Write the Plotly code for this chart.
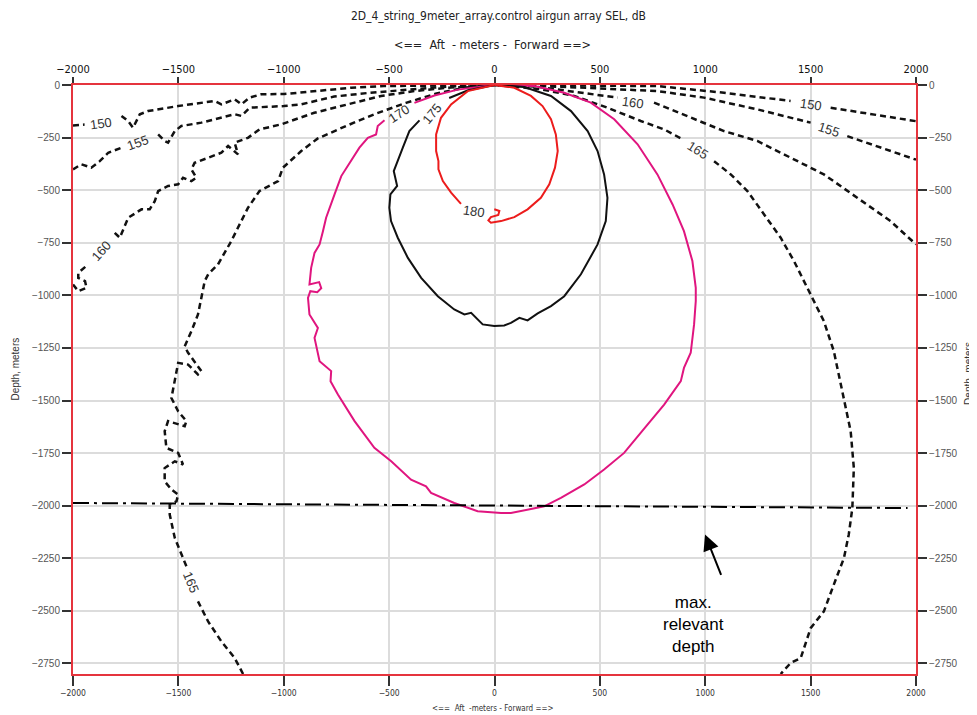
import plotly.graph_objects as go

# ---------------- data (meters) ----------------
x_ticks = [-2000, -1500, -1000, -500, 0, 500, 1000, 1500, 2000]
y_ticks = [0, -250, -500, -750, -1000, -1250, -1500, -1750, -2000, -2250, -2500, -2750]

c180_x = [0, -127, -206, -254, -277, -277, -266, -266, -245, -206, -159, None,
          -1, 23, 18, -17, -29, -17, 31, 94, 157, 220, 260, 287, 300, 291, 268, 228, 173, 94, 0]
c180_y = [0, -29, -92, -156, -235, -314, -362, -401, -457, -512, -565, None,
          -591, -599, -618, -628, -644, -655, -647, -628, -591, -536, -472, -393, -314, -235, -163, -100, -52, -13, 0]

c175_x = [0, -125, -215, None, -356, -404, -435, -459, -478, -462, -494, -499, -491, -459,
          -411, -348, -269, -191, -143, -111, -80, -56, -1, 46, 78, 118, 157, 205, 268, 331,
          410, 489, 528, 536, 520, 489, 442, 363, 268, 141, 31, 0]
c175_y = [0, -25, -62, None, -168, -219, -298, -362, -409, -480, -520, -584, -647, -726,
          -822, -917, -1004, -1067, -1091, -1083, -1115, -1138, -1146, -1143, -1131, -1107, -1119, -1086, -1051, -1004,
          -900, -758, -647, -536, -425, -314, -219, -124, -52, -10, 0, 0]

c170_x = [0, -174, -285, -380, None, -522, -554, -562, -601, -641, -680, -727, -759, -783, -799,
          -814, -830, -854, -870, -878, -832, -822, -841, -874, -885, -878, -838, -854, -830, -775,
          -778, -743, -664, -570, -490, -396, -325, -301, -191, -80, 31, 78, 236, 315, 426,
          520, 615, 726, 805, 884, 899, 931, 947, 955, 955, 939, 899, 845, 773, 679,
          568, 457, 331, 189, 0]
c170_y = [0, -22, -50, -85, None, -168, -195, -235, -251, -298, -362, -433, -520, -584, -631,
          -695, -758, -798, -869, -948, -937, -966, -985, -980, -1012, -1091, -1155, -1202, -1313, -1360,
          -1408, -1471, -1598, -1725, -1789, -1876, -1908, -1939, -1987, -2026, -2035, -2035, -2003, -1963, -1899,
          -1828, -1749, -1614, -1519, -1408, -1345, -1273, -1138, -1027, -964, -837, -695, -568, -425, -282,
          -163, -84, -37, -5, 0]

c165_x = [-1193, -1233, -1296, -1359, -1407, None, -1462, -1486, -1517, -1541, -1541,
          -1509, -1501, -1533, -1565, -1565, -1517, -1478, -1501, -1557, -1565,
          -1549, -1470, -1462, -1501, -1533, -1517, -1501, -1454, -1407, -1391,
          -1454, -1470, -1438, -1407, -1375, -1358, -1312, -1249, -1217, -1170,
          -1115, -1027, -1004, -917, -840, -705, -560, -420, -280, -140,
          0, 220, 378, 536, 694, 805, 892, None, 1042, 1121, 1200, 1279, 1358,
          1421, 1492, 1563, 1610, 1658, 1690, 1705, 1698, 1681, 1658,
          1610, 1563, 1500, 1453, 1405, 1358]
c165_y = [-2800, -2724, -2645, -2550, -2455, None, -2288, -2232, -2153, -2042, -1995,
          -1979, -1947, -1923, -1884, -1821, -1789, -1804, -1749, -1725, -1646,
          -1598, -1622, -1598, -1551, -1488, -1408, -1321, -1329, -1376, -1360,
          -1273, -1242, -1170, -1091, -932, -899, -853, -742, -679, -584,
          -504, -457, -393, -314, -255, -195, -135, -85, -42, -12,
          0, -20, -52, -108, -171, -211, -258, None, -362, -425, -504, -615, -726,
          -837, -980, -1123, -1265, -1488, -1646, -1820, -2011, -2137, -2249,
          -2375, -2502, -2582, -2724, -2748, -2800]

c160_x = [-2000, -1975, -1936, -1943, -1975, -1975, -1928, None, -1802, -1778, -1738, -1675, -1636,
          -1612, -1596, -1549, -1501, -1478, -1438, -1415, -1438, -1423, -1359,
          -1296, -1264, -1217, -1233, -1170, -1115, -1012, -855, -696, -538,
          -381, -220, 0, 200, 584, None, 757, 931, 1089, 1247, 1405, 1563, 1721, 1879, 2000]
c160_y = [-948, -980, -964, -932, -917, -893, -853, None, -703, -726, -631, -591, -591,
          -552, -504, -480, -472, -441, -457, -441, -401, -370, -346,
          -322, -290, -330, -274, -251, -211, -187, -132, -92, -52,
          -29, -13, 0, -8, -60, None, -84, -156, -219, -266, -346, -425, -536, -647, -758]

c155_x = [-2000, -1961, -1913, -1873, -1833, -1770, None, -1596, -1565, -1549, -1517, -1486, -1391,
          -1233, -1201, -1162, -1000, -917, -761, -601, -443, -287, -140, 0, 150, 400, 773, 994,
          1247, 1500, None, 1674, 1989, 2000]
c155_y = [-401, -377, -393, -362, -322, -298, None, -235, -266, -274, -219, -195, -179,
          -139, -147, -108, -100, -92, -55, -38, -24, -12, -4, 0, -3, -12, -29, -60,
          -116, -179, None, -243, -353, -355]

c150_x = [-2000, -1945, None, -1770, -1739, -1715, -1683, -1644, -1501, -1328, -1296, -1233, -1201,
          -1162, -1107, -998, -836, -680, -524, -300, 0, 300, 773, 1089, 1405, None, 1595, 1989, 2000]
c150_y = [-192, -188, None, -147, -171, -203, -139, -124, -100, -76, -92, -68, -92,
          -60, -44, -43, -29, -13, -5, -2, 0, -2, -5, -37, -76, None, -108, -171, -172]

label_text = ["150", "155", "160", "165", "170", "175", "180", "160", "165", "150", "155"]
label_x = [-1865, -1690, -1865, -1440, -452, -296, -95, 656, 967, 1500, 1585]
label_y = [-181, -275, -785, -2365, -135, -135, -600, -81, -310, -95, -213]
label_angle = [-8, -20, -48, 68, -33, -50, 8, 8, 32, 8, 18]

max_depth_x = [-2000, 1960]
max_depth_y = [-1987, -2011]
arrow_tip = (999, -2137)
arrow_tail = (1078, -2336)
note_pos = (942, -2564)

# ---------------- style ----------------
RED_FRAME = "#e5343d"
GRID = "#dcdcdc"
NARROW = "Liberation Sans Narrow, Arial Narrow, DejaVu Sans Condensed, sans-serif"
REG = "Liberation Sans, Arial, sans-serif"

fig = go.Figure()


def add_line(xs, ys, color, width, dash="solid"):
    fig.add_trace(go.Scatter(x=xs, y=ys, mode="lines", connectgaps=False,
                             line=dict(color=color, width=width, dash=dash),
                             hoverinfo="skip", showlegend=False))


DASH = "6px,4px"
add_line(c150_x, c150_y, "#111111", 2.5, DASH)
add_line(c155_x, c155_y, "#111111", 2.5, DASH)
add_line(c160_x, c160_y, "#111111", 2.5, DASH)
add_line(c165_x, c165_y, "#111111", 2.5, DASH)
add_line(c170_x, c170_y, "#e0157f", 2)
add_line(c175_x, c175_y, "#111111", 2)
add_line(c180_x, c180_y, "#ec1c1c", 2)
add_line(max_depth_x, max_depth_y, "#000000", 2, "16px,5px,3px,5px")

# invisible trace for secondary axes
fig.add_trace(go.Scatter(x=[0], y=[0], xaxis="x2", yaxis="y2", mode="markers",
                         marker=dict(opacity=0), hoverinfo="skip", showlegend=False))

for t, x, y, a in zip(label_text, label_x, label_y, label_angle):
    fig.add_annotation(x=x, y=y, text=t, textangle=a, showarrow=False,
                       font=dict(family=REG, size=13, color="#333333"))

fig.add_annotation(x=arrow_tip[0], y=arrow_tip[1], ax=arrow_tail[0], ay=arrow_tail[1],
                   axref="x", ayref="y", text="", showarrow=True, arrowhead=2,
                   arrowsize=1.6, arrowwidth=2, arrowcolor="#000000")
fig.add_annotation(x=note_pos[0], y=note_pos[1], text="max.<br>relevant<br>depth",
                   showarrow=False, align="center",
                   font=dict(family=REG, size=17, color="#000000"))

# axis titles
NB = "\u00a0"
fig.add_annotation(xref="paper", yref="paper", x=0.498, y=1.068, xanchor="center", yanchor="middle",
                   text=f"<=={NB}{NB}Aft{NB}{NB}-{NB}meters{NB}-{NB}{NB}Forward{NB}==>",
                   showarrow=False, font=dict(family=NARROW, size=12.5, color="#222"))
fig.add_annotation(xref="paper", yref="paper", x=0.498, y=-0.059, xanchor="center", yanchor="middle",
                   text=f"<=={NB}{NB}Aft{NB}{NB}-meters{NB}-{NB}Forward{NB}==>",
                   showarrow=False, font=dict(family=NARROW, size=8, color="#333"))
fig.add_annotation(xref="paper", yref="paper", x=-0.068, y=0.518, textangle=-90,
                   xanchor="center", yanchor="middle",
                   text="Depth, meters", showarrow=False,
                   font=dict(family=REG, size=10, color="#333"))
fig.add_annotation(xref="paper", yref="paper", x=1.062, y=0.51, textangle=-90,
                   xanchor="center", yanchor="middle",
                   text="Depth, meters", showarrow=False,
                   font=dict(family=REG, size=10, color="#333"))

common_x = dict(range=[-2000, 2000], tickvals=x_ticks, ticks="outside", tickwidth=2,
                tickcolor="#333", showline=True, linecolor=RED_FRAME, linewidth=2,
                zeroline=False, fixedrange=True)
common_y = dict(range=[-2800, 0], tickvals=y_ticks, ticks="outside", tickwidth=2, ticklen=9,
                tickcolor="#333", showline=True, linecolor=RED_FRAME, linewidth=2,
                zeroline=False, fixedrange=True,
                tickfont=dict(family=REG, size=10, color="#555"))

fig.update_layout(
    width=977, height=715,
    margin=dict(l=65, r=69, t=77, b=49),
    paper_bgcolor="white", plot_bgcolor="white",
    title=dict(text="2D_4_string_9meter_array.control airgun array SEL, dB",
               x=0.502, xanchor="center", y=0.989, yanchor="middle",
               font=dict(family=NARROW, size=12, color="#222")),
    xaxis=dict(**common_x, side="bottom", ticklen=10, showgrid=True, gridcolor=GRID, gridwidth=1.5,
               tickfont=dict(family=NARROW, size=8.5, color="#333")),
    xaxis2=dict(**common_x, side="top", overlaying="x", matches="x", anchor="y", ticklen=6,
                showgrid=False, tickfont=dict(family=NARROW, size=11, color="#111")),
    yaxis=dict(**common_y, side="left", showgrid=True, gridcolor=GRID, gridwidth=1.5),
    yaxis2=dict(**common_y, side="right", overlaying="y", matches="y", anchor="x", showgrid=False),
)

fig.write_html("out.html")
